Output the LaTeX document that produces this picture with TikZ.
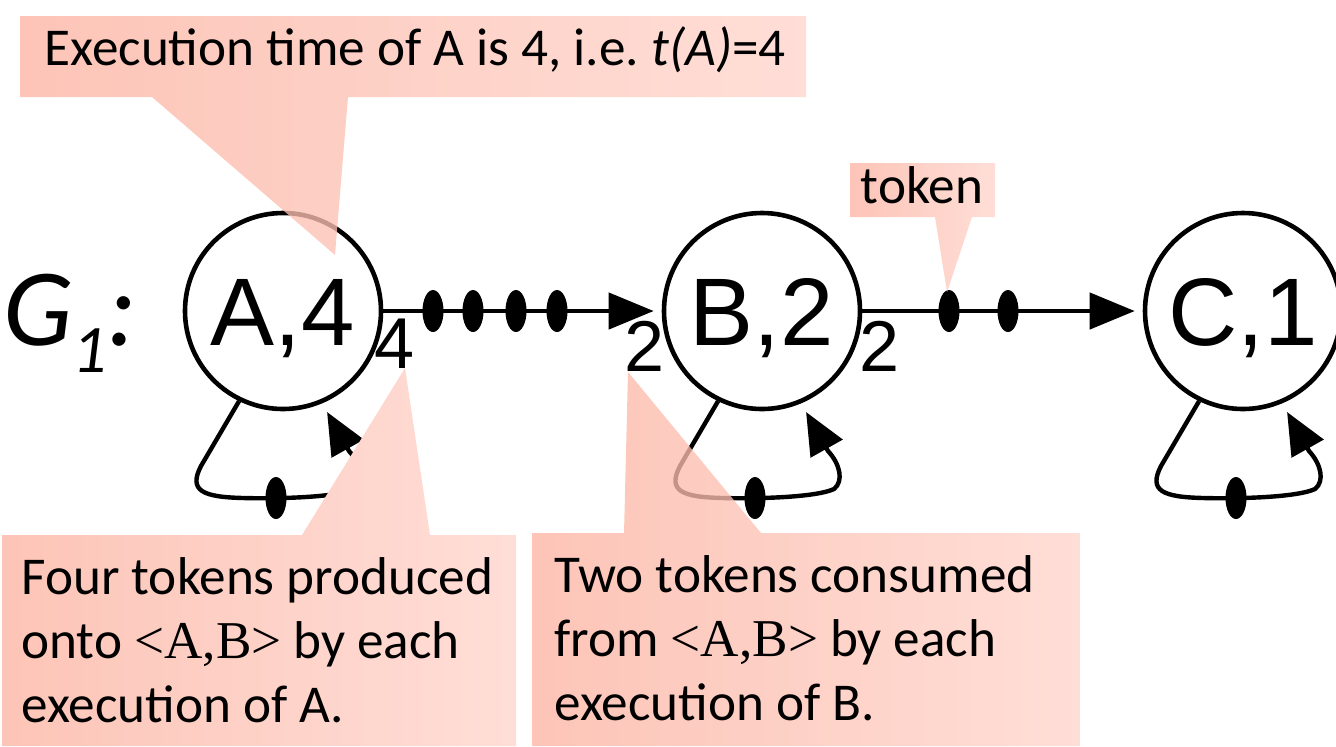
\documentclass[tikz,border=0pt]{standalone}
\usepackage{fontspec}
\setmainfont{Carlito}
\newfontfamily\actorfont{Liberation Sans}
\newfontfamily\tuplefont{Liberation Serif}
\usetikzlibrary{arrows.meta,calc,shapes.geometric}
\definecolor{CalloutLeft}{RGB}{252,180,163}
\definecolor{CalloutRight}{RGB}{255,213,204}
\tikzset{
  actor/.style={circle,draw,line width=2.3pt,minimum size=98pt,inner sep=0pt,
    font=\actorfont\fontsize{48}{56}\selectfont,text height=34.4pt,text depth=0pt},
  port/.style={font=\actorfont\fontsize{36}{40}\selectfont,inner sep=0pt},
  token/.style={ellipse,fill=black,minimum width=10.5pt,minimum height=21pt,inner sep=0pt},
  flow/.style={-{Triangle[length=22.5pt,width=18pt]},line width=2.2pt,shorten >=4pt},
  loopflow/.style={-{Triangle[length=21pt,width=18pt]},line width=2.2pt,shorten >=5pt},
  callout/.style={left color=CalloutLeft,right color=CalloutRight,fill opacity=0.78},
  solidcallout/.style={left color=CalloutLeft!78!white,right color=CalloutRight!78!white},
  note/.style={font=\fontsize{26.6}{32}\selectfont,inner sep=0pt,align=left}
}

\begin{document}
\begin{tikzpicture}[x=0.5pt,y=-0.5pt]
  \useasboundingbox (0,0) rectangle (1336,746);
  % graph G1 with three actors
  \node[anchor=base west,inner sep=0pt,font=\itshape\fontsize{55}{60}\selectfont] (gname) at (3,345)
    {G\raisebox{-13.5pt}{\fontsize{34}{36}\selectfont 1}:};
  \node[actor] (A) at (283,311) {A,4};
  \node[actor] (B) at (762,311) {B,2};
  \node[actor] (C) at (1243,311) {C,1};
  \draw[flow] (A.east) -- (B.west);
  \draw[flow] (B.east) -- (C.west);
  \foreach \x [count=\i] in {433,473,516,557} \node[token] (ab\i) at (\x,311) {};
  \foreach \x [count=\i] in {949,1008} \node[token] (bc\i) at (\x,311) {};
  \node[port,anchor=base] (pA) at (395,368) {4};
  \node[port,anchor=base] (cB) at (645,371) {2};
  \node[port,anchor=base] (pB) at (880,371) {2};
  % self loops, one token each
  \foreach \n in {A,B,C}{
    \begin{scope}[shift={(\n.center)}]
      \draw[loopflow] (\n.244) -- (-82,155) .. controls (-95,180) and (-80,186) .. (-40,187)
        .. controls (0,188) and (55,186) .. (72,178) .. controls (82,170) and (78,153) .. (66,140)
        -- (\n.293);
      \node[token] (\n loop) at (-7,187) {};
    \end{scope}
  }
  % callouts
  \shade[callout] (20,16) -- (806,16) -- (806,97) -- (348,97) -- (335,255) -- (152,97) -- (20,97) -- cycle;
  \node[note,anchor=base] (tnote) at (415,65) {Execution time of A is 4, i.e.\ \textit{t(A)}=4};
  \shade[callout] (850,163) -- (995,163) -- (995,217) -- (972,217) -- (947,292) -- (935,217) -- (850,217) -- cycle;
  \node[note,anchor=base] (knote) at (922,203) {token};
  \shade[solidcallout] (2,535) -- (302,535) -- (405,368) -- (430,535) -- (516,535) -- (516,746) -- (2,746) -- cycle;
  \node[note,anchor=base west] (pnote) at (21,722)
    {Four tokens produced\\onto {\tuplefont<A,B>} by each\\execution of A.};
  \shade[callout] (532,533) -- (624,533) -- (628,372) -- (761,533) -- (1080,533) -- (1080,746) -- (532,746) -- cycle;
  \node[note,anchor=base west] (cnote) at (554,720)
    {Two tokens consumed\\from {\tuplefont<A,B>} by each\\execution of B.};
\end{tikzpicture}
\end{document}
